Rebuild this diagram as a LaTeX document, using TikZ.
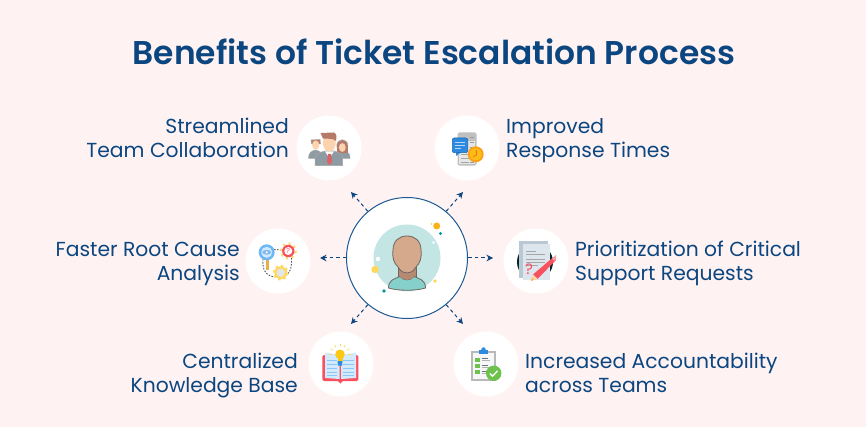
\documentclass[tikz,border=0pt]{standalone}
\usepackage{fontspec}
\setmainfont{Poppins}
\newfontfamily\titlefont{Poppins}[UprightFont=*-SemiBold]
\newfontfamily\labelfont{Poppins}
\usetikzlibrary{arrows.meta,calc}
\newcommand\lstr{\rule[-6pt]{0pt}{24pt}}
\definecolor{bg}{HTML}{FFF2F2}
\definecolor{navy}{HTML}{0B4680}
\definecolor{hubline}{HTML}{1B5A94}
\definecolor{tealbg}{HTML}{C3E6E4}
\definecolor{skin}{HTML}{D5A98C}
\definecolor{skindk}{HTML}{B58A70}
\definecolor{shirt}{HTML}{86D0CB}
\definecolor{outl}{HTML}{6E6460}
\definecolor{suit}{HTML}{8E9BA3}
\definecolor{hair}{HTML}{B87A68}
\definecolor{face}{HTML}{FBD3AE}
\definecolor{paper}{HTML}{D5D5D5}
\definecolor{blueb}{HTML}{2C8AE0}
\definecolor{orangec}{HTML}{FBB21A}
\definecolor{redc}{HTML}{F8505F}
\definecolor{yellowc}{HTML}{FDD85C}
\definecolor{lblue}{HTML}{6DB9F5}
\definecolor{green}{HTML}{6DC24B}
\definecolor{docback}{HTML}{B9C8D3}
\definecolor{docfront}{HTML}{DCE6EC}
\tikzset{
  x=1pt,y=-1pt,
  lab/.style={font=\labelfont\fontsize{20.3}{24}\selectfont,text=navy,inner sep=0pt},
  labr/.style={lab,align=right,anchor=east},
  labl/.style={lab,align=left,anchor=west},
  iconbg/.style={circle,fill=white,draw=none,minimum size=65pt,inner sep=0pt},
  link/.style={draw=navy,line width=1pt,dash pattern=on 3.5pt off 3pt,-{Stealth[length=6.5pt,width=6.5pt]}},
  sil/.style={draw=gray!70,line width=.5pt},
}
\begin{document}
\begin{tikzpicture}
\useasboundingbox (0,0) rectangle (866,427);
\fill[bg] (0,0) rectangle (866,427);
\node[font=\titlefont\fontsize{32.9}{38}\selectfont,text=navy,inner sep=0pt] (title) at (434,52) {Benefits of Ticket Escalation Process};

% icon discs
\node[iconbg] (tl) at (329,148) {};
\node[iconbg] (tr) at (467,148) {};
\node[iconbg] (ml) at (278,261) {};
\node[iconbg] (mr) at (536,261) {};
\node[iconbg] (bl) at (341,364) {};
\node[iconbg] (br) at (486,364) {};

% hub
\node[circle,fill=white,draw=hubline,line width=1pt,minimum size=121pt,inner sep=0pt] (hub) at (407,258) {};

% connectors
\coordinate (etl) at (351,192);
\coordinate (etr) at (463,192);
\coordinate (eml) at (320,258);
\coordinate (emr) at (493,258);
\coordinate (ebl) at (351,324);
\coordinate (ebr) at (463,324);
\draw[link] (hub.130) -- (etl);
\draw[link] (hub.50) -- (etr);
\draw[link] (hub.180) -- (eml);
\draw[link] (hub.0) -- (emr);
\draw[link] (hub.230) -- (ebl);
\draw[link] (hub.310) -- (ebr);

% person
\fill[tealbg] (407,258) circle (33.5);
\begin{scope}
  \fill[skindk,draw=outl,line width=.5pt] (398,266) rectangle (416,280);
  \fill[shirt,draw=outl,line width=.8pt] (388.5,288) .. controls (388.5,280) and (394,279) .. (400,276.5) .. controls (403,281) and (411,281) .. (414,276.5) .. controls (420,279) and (425.5,280) .. (425.5,288) .. controls (416,291) and (398,291) .. (388.5,288) -- cycle;
  \fill[skindk] (399,270) -- (415,270) -- (414,276.5) .. controls (411,281) and (403,281) .. (400,276.5) -- cycle;
  \fill[skin,draw=outl,line width=.8pt] (407,236) .. controls (415,236) and (421,241) .. (421,250) .. controls (422,258) and (420,263) .. (416,267) .. controls (413,272) and (410,273) .. (407,273) .. controls (404,273) and (401,272) .. (398,267) .. controls (394,263) and (392,258) .. (393,250) .. controls (393,241) and (399,236) .. (407,236) -- cycle;
\end{scope}
\fill[orangec] (436.7,226) circle (3.5);
\fill[orangec!70] (431.5,224) circle (.9);
\fill[teal!80!cyan] (440.5,233.5) circle (1.7);
\fill[white] (433.5,242.5) circle (1.4);
\fill[white] (378,259) circle (2.2);
\fill[yellowc] (375,269.5) circle (3.7);
\fill[yellowc] (435,281) circle (1.9);
\fill[teal!80!cyan] (384,291) circle (1.8);

% team icon
\begin{scope}
  \fill[suit,sil] (308.5,158.5) .. controls (308.5,152) and (312,151) .. (315.5,150) .. controls (319,151) and (323,152) .. (323,158.5) -- cycle;
  \fill[hair,sil] (311,140) -- (320,139.5) -- (320.5,144) -- (311.5,144) -- cycle;
  \fill[face] (315.7,145) ellipse (3.6 and 4.6);
  \fill[suit,sil] (338,158.5) .. controls (338,153) and (342,152) .. (342,152) -- (347,152) .. controls (349,153) and (350,155) .. (350,158.5) -- cycle;
  \fill[hair,sil] (342.3,145.5) ellipse (5.5 and 5.8);
  \fill[hair] (337,146) rectangle (347.6,153);
  \fill[face] (342.3,147.5) ellipse (3.4 and 4.4);
  \fill[suit,sil] (315,165.7) -- (315,158) .. controls (315,153.5) and (320,152.5) .. (325,151) -- (334,151) .. controls (339,152.5) and (342.7,153.5) .. (342.7,158) -- (342.7,165.7) -- cycle;
  \fill[white] (325,151.5) -- (334,151.5) -- (329.3,158) -- cycle;
  \fill[redc!60!hair] (328,154) -- (331,154) -- (332,162) -- (329.5,165) -- (327,162) -- cycle;
  \fill[face] (329.3,143) ellipse (6.4 and 8.5);
  \fill[hair] (320.5,133) -- (334,132.5) .. controls (337,134) and (337,138) .. (336,141) .. controls (333,138) and (328,139) .. (323,138.5) -- cycle;
\end{scope}

% response icon
\begin{scope}
  \fill[paper!90!black,rounded corners=2.5pt] (457.5,132.3) rectangle (476.7,165.7);
  \fill[paper!60!white] (459,141) rectangle (475,164);
  \foreach \yy in {137,142,147,152,157,162}{\draw[gray!80,line width=.7pt] (470,\yy) -- (474,\yy);}
  \foreach \yy in {154,158,162}{\draw[gray!70,line width=.8pt] (461,\yy) -- (469,\yy);}
  \fill[blueb,rounded corners=2pt] (452.3,138) rectangle (467.7,152.7);
  \fill[blueb] (456,151) -- (463,151) -- (456,156) -- cycle;
  \draw[blueb!50!navy,line width=.6pt,rounded corners=2pt] (452.3,138) rectangle (467.7,152.7);
  \foreach \yy/\xx in {142.5/465,145.5/465,148.5/461}{\draw[white!65!blueb,line width=.9pt] (455,\yy) -- (\xx,\yy);}
  \fill[orangec!90!red] (475.7,154.3) circle (8);
  \fill[orangec!85!yellow] (475.7,154.3) circle (6);
  \draw[orangec!65!red,line width=.9pt] (476.3,150) -- (476.3,155) -- (473,157);
\end{scope}

% root cause icon
\begin{scope}
  \draw[gray!70!black,line width=.9pt,dash pattern=on 1.6pt off 1.4pt] (274,249.5) -- (283,250);
  \draw[gray!70!black,line width=.9pt,dash pattern=on 1.6pt off 1.4pt] (263,259) .. controls (262,270) and (266,276) .. (275,277);
  \draw[gray!70!black,line width=.9pt,dash pattern=on 1.6pt off 1.4pt] (291.5,258) .. controls (292,265) and (291,272) .. (286.5,275);
  \fill[orangec!60!skin] (265.5,258) rectangle (269,270);
  \fill[lblue] (266.7,252.3) circle (8);
  \fill[white!70!lblue] (266.7,252.3) circle (5.5);
  \fill[blueb!60!white] (266.7,252.3) ellipse (4.5 and 2.4);
  \fill[white] (266.7,252.3) circle (1.2);
  \foreach \a in {0,45,...,315}{\fill[yellowc] (288.3,251) ++(\a:8.5) -- ++(\a+100:2.5) -- ++(\a+190:5) -- cycle;}
  \fill[redc] (288.3,251) circle (6.2);
  \fill[white] (288.3,251) circle (4);
  \node[font=\labelfont\fontsize{7}{7}\selectfont,text=redc,inner sep=0pt] (qa) at (288.3,251) {?};
  \foreach \a in {0,45,...,315}{\fill[yellowc] (280.7,272.7) ++(\a:7.8) -- ++(\a+100:2.6) -- ++(\a+190:5.2) -- cycle;}
  \fill[yellowc] (280.7,272.7) circle (6.4);
  \fill[gray!20] (280.7,272.7) circle (4.3);
\end{scope}

% prioritization icon
\begin{scope}
  \fill[black!70!teal] (535,262) circle (18);
  \fill[docback] (518.5,241) rectangle (548,278);
  \fill[docfront] (522.5,244.5) -- (550,244.5) -- (550,280) -- (522.5,280) -- cycle;
  \foreach \yy/\xx in {251/536,254/545,259/545,262/545,265/538}{\draw[gray!70,line width=.9pt] (526,\yy) -- (\xx,\yy);}
  \node[font=\labelfont\fontsize{15}{15}\selectfont,text=redc,inner sep=0pt] (qb) at (529,269.5) {?};
  \fill[redc] (533,274.5) -- (553.5,257) -- (556,260) -- (537.5,279) -- cycle;
  \fill[redc!55!white] (552,258.5) -- (556,255) -- (556.2,259.5) -- (554,261) -- cycle;
  \fill[face] (533,274.5) -- (537.5,279) -- (531,281) -- cycle;
  \fill[orangec] (532.2,278) -- (533.5,279.8) -- (531,281) -- cycle;
\end{scope}

% book icon
\begin{scope}
  \fill[redc,rounded corners=1.5pt] (322.3,355) rectangle (358.3,381);
  \fill[redc] (338,381) -- (343,381) -- (340.3,383.5) -- cycle;
  \fill[white!70!lblue] (325,352.5) -- (339.5,355) -- (339.5,379) -- (325,378) -- cycle;
  \fill[white!70!lblue] (341,355) -- (356,352.5) -- (356,378) -- (341,379) -- cycle;
  \foreach \yy in {360,364,368,372,375.5}{
    \draw[lblue!80!white,line width=.6pt] (327,\yy) -- (337,\yy);
    \draw[lblue!80!white,line width=.6pt] (343,\yy) -- (353.5,\yy);
  }
  \foreach \a in {0,30,60,90,120,150,180}{\draw[yellowc,line width=.8pt] (340,354.3) ++(-\a:8.2) -- ++(-\a:2.5);}
  \fill[orangec!70!yellow] (340,354.3) circle (4.8);
  \fill[orangec!70!yellow] (337.5,357) rectangle (342.5,361);
  \fill[blueb] (337.5,361) -- (342.5,361) -- (342,365.5) -- (338,365.5) -- cycle;
\end{scope}

% checklist icon
\begin{scope}
  \fill[gray!55] (470.7,351) rectangle (495.7,381);
  \fill[white!94!gray] (472.5,353) rectangle (494,379);
  \fill[blueb] (479,350) rectangle (488,354);
  \fill[blueb] (483.5,349.5) circle (2.2);
  \foreach \yy in {359.5,366,372}{
    \fill[green] (475,\yy-2) rectangle (479.5,\yy+2);
    \draw[gray!80!navy,line width=.8pt] (481.5,\yy-1) -- (488,\yy-1);
    \draw[gray!60,line width=.7pt] (481.5,\yy+1) -- (490,\yy+1);
  }
  \fill[green] (493.7,373.3) circle (7.7);
  \draw[white,line width=1.3pt] (489.8,373.5) -- (492.6,376.2) -- (497.5,370.8);
\end{scope}

% labels
\node[labr] (t1) at (289,140) {\lstr Streamlined\\\lstr Team Collaboration};
\node[labl] (t2) at (506,140) {\lstr Improved\\\lstr Response Times};
\node[labr] (t3) at (240,262) {\lstr Faster Root Cause\\\lstr Analysis};
\node[labl] (t4) at (575,262) {\lstr Prioritization of Critical\\\lstr Support Requests};
\node[labr] (t5) at (298,374) {\lstr Centralized\\\lstr Knowledge Base};
\node[labl] (t6) at (525,374) {\lstr Increased Accountability\\\lstr across Teams};
\end{tikzpicture}
\end{document}
